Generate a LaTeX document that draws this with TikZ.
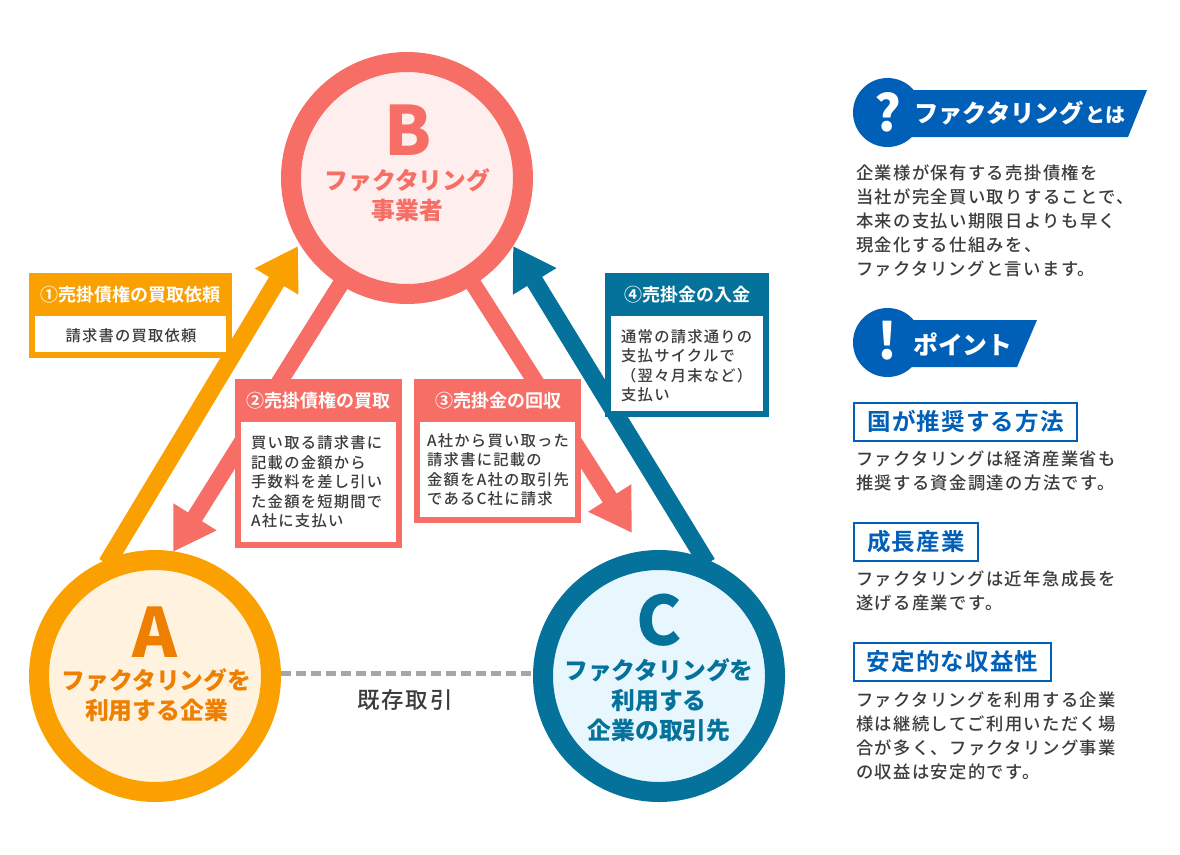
\documentclass[tikz,border=0pt]{standalone}
\usepackage{fontspec}
\usetikzlibrary{arrows.meta,backgrounds}
\setmainfont{Noto Sans CJK JP}
\newfontfamily\bodyfont[LetterSpace=8]{Noto Sans CJK JP Medium}
\newfontfamily\headfont[LetterSpace=5]{Noto Sans CJK JP Bold}
\newfontfamily\blackfont{Noto Sans CJK JP Black}
\newfontfamily\titlefont{Noto Sans CJK JP Bold}
\definecolor{salmon}{HTML}{F66E66}
\definecolor{salmonfill}{HTML}{FFEEEE}
\definecolor{amber}{HTML}{FAA000}
\definecolor{amberfill}{HTML}{FFF3E0}
\definecolor{ambertext}{HTML}{EE7F00}
\definecolor{teal}{HTML}{04729A}
\definecolor{tealfill}{HTML}{E8F7FE}
\definecolor{navy}{HTML}{0060B8}
\definecolor{ink}{HTML}{3C3C3C}
\definecolor{dashgrey}{HTML}{A6A6A6}
\tikzset{
  party/.style={circle,draw=#1,line width=20pt,minimum size=232pt,inner sep=0pt},
  bigletter/.style={font=\blackfont\fontsize{68}{68}\selectfont},
  partyname/.style={align=center,font=\blackfont\fontsize{23.8}{30}\selectfont},
  flow/.style 2 args={line width=#2,draw=#1,-{Triangle[length=41.5pt,width=48pt,fill=#1]},shorten <=-6pt},
  outerbox/.style={fill=#1,anchor=north west,inner sep=0pt},
  innerbox/.style={fill=white,anchor=north west,inner sep=0pt},
  boxtitle/.style={text=white,font=\titlefont\fontsize{18}{20}\selectfont},
  boxbody/.style={text=ink,align=left,anchor=west,inner sep=0pt,font=\bodyfont\fontsize{15.3}{19.5}\selectfont},
  sidebody/.style={text=ink,align=left,anchor=west,inner sep=0pt,font=\bodyfont\fontsize{17.3}{24}\selectfont},
  sidelabel/.style={draw=navy,line width=2pt,fill=white,text=navy,anchor=north west,inner sep=0pt,
     font=\headfont\fontsize{23.5}{26}\selectfont},
  badge/.style={circle,fill=navy,minimum size=69pt,inner sep=0pt},
  banner/.style={fill=navy,draw=none},
}
\begin{document}
\begin{tikzpicture}[x=1pt,y=-1pt]
\useasboundingbox (0,0) rectangle (1180,854);
% parties
\node[party=salmon,fill=salmonfill] (B) at (407,178) {};
\node[party=amber,fill=amberfill] (A) at (155,676) {};
\node[party=teal,fill=tealfill] (C) at (659,676) {};
\node[bigletter,text=salmon] (Bl) at (408,130) {B};
\node[partyname,text=salmon] (Bn) at (407.5,195) {ファクタリング\\事業者};
\node[bigletter,text=ambertext] (Al) at (155,632) {A};
\node[partyname,text=ambertext] (An) at (156.5,695) {ファクタリングを\\利用する企業};
\node[bigletter,text=teal] (Cl) at (659,620) {C};
\node[partyname,text=teal] (Cn) at (659,700) {ファクタリングを\\利用する\\企業の取引先};
% arrow ends
\coordinate (tipAB) at (298,246);
\coordinate (tipBA) at (173,552);
\coordinate (tipBC) at (632,533);
\coordinate (tipCB) at (513,246);
\begin{scope}[on background layer]
\draw[flow={amber}{17.5pt}] (A.111) -- (tipAB);
\draw[flow={salmon}{16.5pt}] (B.-122) -- (tipBA);
\draw[flow={salmon}{16.5pt}] (B.-58) -- (tipBC);
\draw[flow={teal}{17.5pt}] (C.69) -- (tipCB);
\draw[draw=dashgrey,line width=5pt,dash pattern=on 10pt off 5pt] (A.1) -- (C.179);
\end{scope}
\node[text=ink,font=\bodyfont\fontsize{22.5}{26}\selectfont] (trade) at (405,700) {既存取引};
% box 1
\node[outerbox=amber,minimum width=203pt,minimum height=85pt] (b1) at (29,273) {};
\node[innerbox,minimum width=191pt,minimum height=36pt] (b1i) at (35,316) {};
\node[boxtitle] (b1t) at (130.5,295) {①売掛債権の買取依頼};
\node[boxbody,anchor=center] (b1b) at (131,335.5) {請求書の買取依頼};
% box 2
\node[outerbox=salmon,minimum width=167pt,minimum height=169pt] (b2) at (235,379) {};
\node[innerbox,minimum width=155pt,minimum height=120pt] (b2i) at (241,422) {};
\node[boxtitle] (b2t) at (318.5,401) {②売掛債権の買取};
\node[boxbody] (b2b) at (251,482) {買い取る請求書に\\記載の金額から\\手数料を差し引い\\た金額を短期間で\\A社に支払い};
% box 3
\node[outerbox=salmon,minimum width=167pt,minimum height=144pt] (b3) at (414,379) {};
\node[innerbox,minimum width=155pt,minimum height=95pt] (b3i) at (420,422) {};
\node[boxtitle] (b3t) at (498,401) {③売掛金の回収};
\node[boxbody] (b3b) at (427,469.5) {A社から買い取った\\請求書に記載の\\金額をA社の取引先\\であるC社に請求};
% box 4
\node[outerbox=teal,minimum width=164pt,minimum height=144pt] (b4) at (605,273) {};
\node[innerbox,minimum width=152pt,minimum height=95pt] (b4i) at (611,316) {};
\node[boxtitle] (b4t) at (687,295) {④売掛金の入金};
\node[boxbody] (b4b) at (621,365.5) {通常の請求通りの\\支払サイクルで\\（翌々月末など）\\支払い};
% side panel head 1
\node[badge] (q) at (887.5,112.5) {};
\fill[banner] (887.5,90) -- (1147,90) -- (1128,137) -- (887.5,137) -- cycle;
\node[text=white,font=\blackfont\fontsize{50}{50}\selectfont] (qm) at (888,112) {?};
\node[text=white,font=\blackfont\fontsize{24.3}{28}\selectfont,anchor=west,inner sep=0pt] (qt) at (914,113) {ファクタリング\hspace{2pt}{\fontsize{20}{20}\selectfont とは}};
\node[sidebody] (qb) at (856,221) {企業様が保有する売掛債権を\\当社が完全買い取りすることで、\\本来の支払い期限日よりも早く\\現金化する仕組みを、\\ファクタリングと言います。};
% side panel head 2
\node[badge] (e) at (887.5,342.5) {};
\fill[banner] (887.5,320) -- (1037,320) -- (1017,367) -- (887.5,367) -- cycle;
\node[text=white,font=\blackfont\fontsize{50}{50}\selectfont] (em) at (887.5,341) {!};
\node[text=white,font=\blackfont\fontsize{24.8}{28}\selectfont,anchor=west,inner sep=0pt] (et) at (913,344) {ポイント};
% points
\node[sidelabel,minimum width=222.4pt,minimum height=38pt] (p1) at (853.3,401.7) {国が推奨する方法};
\node[sidebody] (p1b) at (856,471) {ファクタリングは経済産業省も\\推奨する資金調達の方法です。};
\node[sidelabel,minimum width=123.4pt,minimum height=38pt] (p2) at (853.3,521.7) {成長産業};
\node[sidebody] (p2b) at (856,591) {ファクタリングは近年急成長を\\遂げる産業です。};
\node[sidelabel,minimum width=196.4pt,minimum height=38pt] (p3) at (853.3,641.7) {安定的な収益性};
\node[sidebody] (p3b) at (856,735.5) {ファクタリングを利用する企業\\様は継続してご利用いただく場\\合が多く、ファクタリング事業\\の収益は安定的です。};
\end{tikzpicture}
\end{document}
